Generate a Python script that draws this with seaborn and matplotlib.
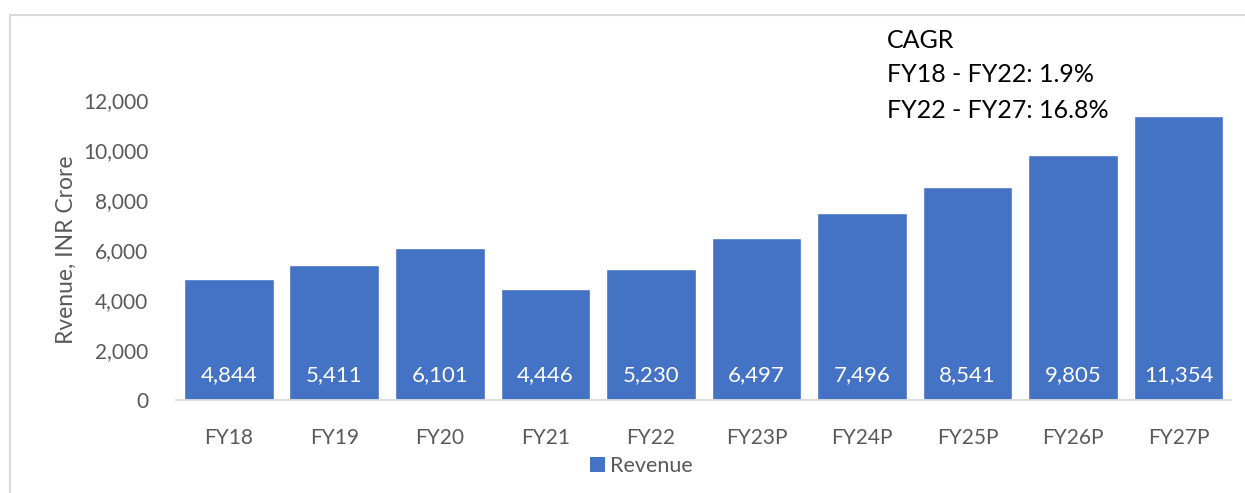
import matplotlib
matplotlib.use("Agg")
import matplotlib.pyplot as plt
import seaborn as sns
from matplotlib.patches import Patch
from matplotlib.lines import Line2D

years = ["FY18", "FY19", "FY20", "FY21", "FY22", "FY23P", "FY24P", "FY25P", "FY26P", "FY27P"]
revenue = [4844, 5411, 6101, 4446, 5230, 6497, 7496, 8541, 9805, 11354]
cagr_lines = ["CAGR", "FY18 - FY22: 1.9%", "FY22 - FY27: 16.8%"]

sns.set_style("white")
plt.rcParams["font.family"] = ["Lato", "DejaVu Sans"]

bar_color = "#4472C4"
grey = "#595959"

fig = plt.figure(figsize=(12.45, 4.93), dpi=100)
ax = fig.add_axes([0.1414, 0.1886, 0.8476, 0.6085])

sns.barplot(x=years, y=revenue, color=bar_color, saturation=1, width=0.85, ax=ax)

ax.set_ylim(0, 12000)
ax.set_xlim(-0.5, len(years) - 0.5)
ax.set_yticks(range(0, 12001, 2000))
ax.set_yticklabels([f"{v:,}" for v in range(0, 12001, 2000)])
ax.tick_params(axis="both", length=0, labelsize=15, colors=grey)
ax.tick_params(axis="x", pad=20)
ax.tick_params(axis="y", pad=20)
ax.set_ylabel("Rvenue, INR Crore", fontsize=16.5, color=grey, labelpad=4)

for s in ["top", "right", "left"]:
    ax.spines[s].set_visible(False)
ax.spines["bottom"].set_color("#D9D9D9")
ax.spines["bottom"].set_linewidth(1.3)

for i, v in enumerate(revenue):
    ax.text(i, 1000, f"{v:,}", ha="center", va="center", color="white", fontsize=16)

handle = Patch(facecolor=bar_color, edgecolor="none")
fig.legend([handle], ["Revenue"], loc="center", bbox_to_anchor=(0.515, 0.054),
           frameon=False, fontsize=15.5, handlelength=0.7, handleheight=0.7,
           handletextpad=0.25, labelcolor=grey)

for k, line in enumerate(cagr_lines):
    fig.text(887 / 1245, 1 - (40 + 35 * k) / 493, line, ha="left", va="center",
             fontsize=18, color="black")

# chart frame (left and top edges visible)
fig.add_artist(Line2D([10 / 1245, 10 / 1245], [0, 1 - 15 / 493], transform=fig.transFigure,
                      color="#D9D9D9", lw=1.5))
fig.add_artist(Line2D([10 / 1245, 1], [1 - 15 / 493, 1 - 15 / 493], transform=fig.transFigure,
                      color="#D9D9D9", lw=1.5))

fig.savefig("out.png", dpi=100)
